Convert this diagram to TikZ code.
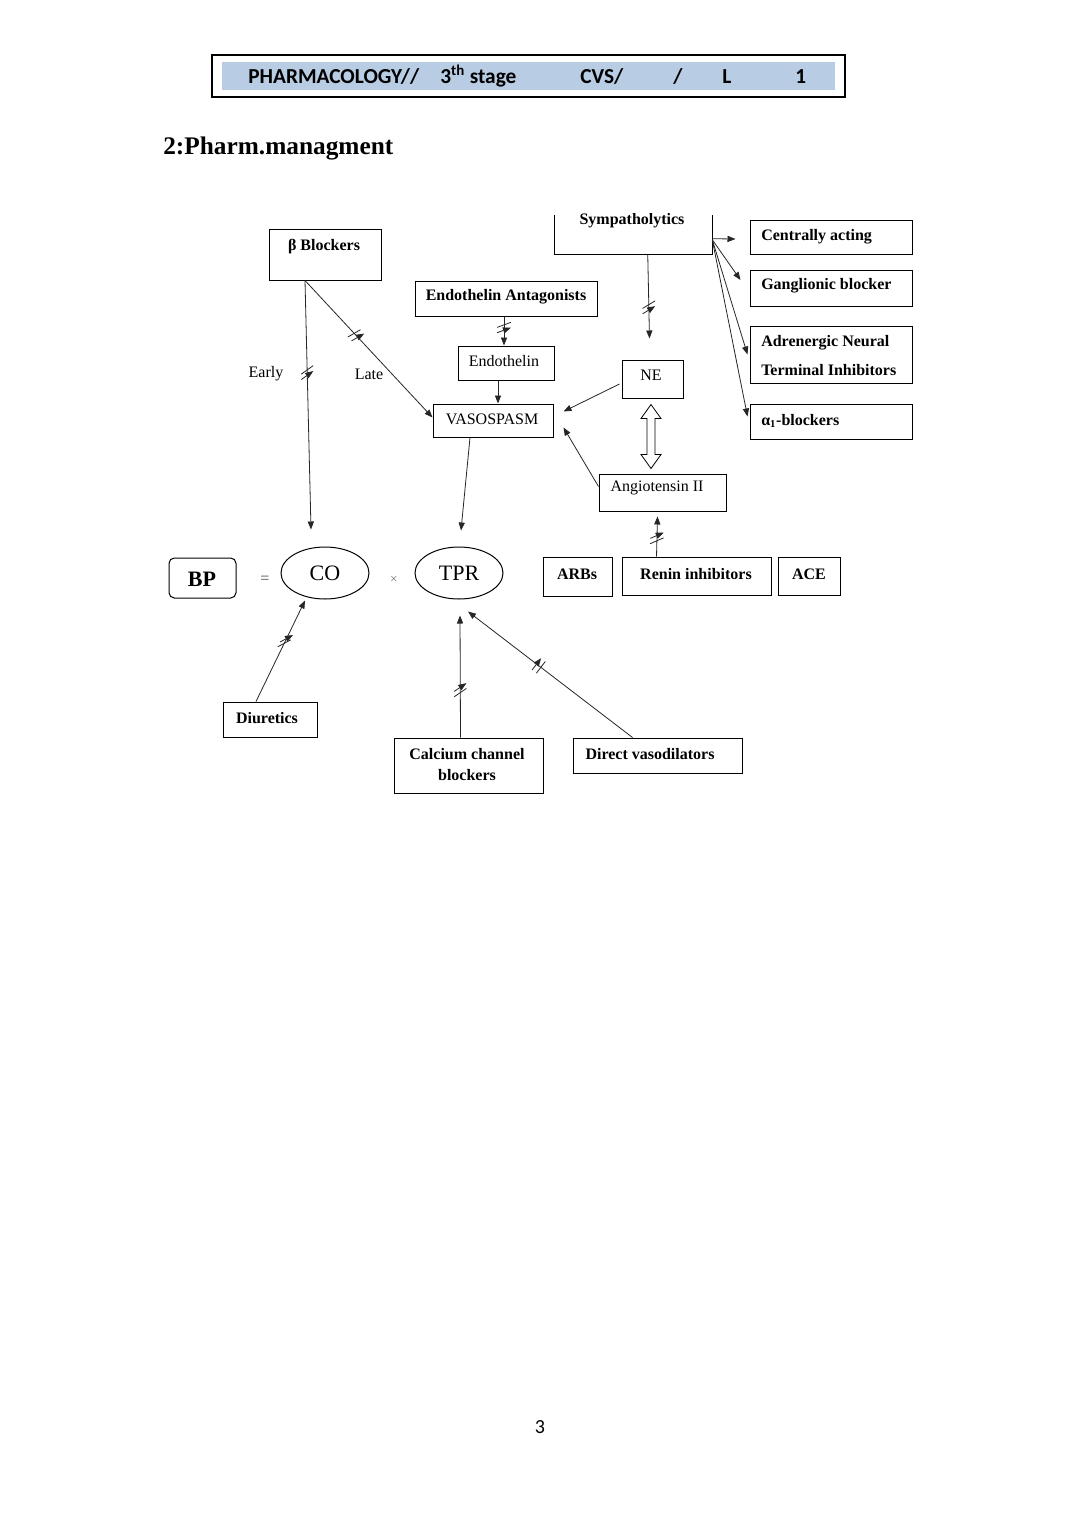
\documentclass[tikz,border=0pt]{standalone}
\usepackage{fontspec}
\setmainfont{Liberation Serif}
\newfontfamily\hdr{Carlito}
\usetikzlibrary{arrows.meta,calc,fit,shapes.geometric,decorations.markings}
\definecolor{headblue}{RGB}{184,204,228}
\begin{document}
\begin{tikzpicture}[x=0.75pt,y=-0.75pt,
  box/.style={draw,line width=0.75pt,inner sep=0pt},
  txt/.style={inner sep=0pt,font=\fontsize{12}{14}\selectfont},
  btxt/.style={inner sep=0pt,font=\fontsize{12}{14}\selectfont\bfseries},
  big/.style={inner sep=0pt,font=\fontsize{16.5}{18}\selectfont},
  conn/.style={line width=0.6pt,draw=black!85,-{Triangle[length=6pt,width=4.6pt]}},
  hatch/.style 2 args={postaction={decorate},decoration={markings,
     mark=at position #1 with {\draw[line width=0.6pt,black!85]
       (-2pt,0pt) ++(#2:-5.5pt) -- ++(#2:11pt)
       (2pt,0pt) ++(#2:-5.5pt) -- ++(#2:11pt);}}}
]
\useasboundingbox[fill=white] (0,0) rectangle (1080,1527);

% header
\node[draw,line width=1.1pt,inner sep=0pt,fit={(212,55) (845,97)}] (hb) {};
\node[fill=headblue,inner sep=0pt,fit={(222,62) (835,90)}] (hf) {};
\begin{scope}[every node/.style={inner sep=0pt,anchor=base west,font=\hdr\fontsize{16}{18}\selectfont\bfseries}]
\node (h1) at (248,84) {PHARMACOLOGY//};
\node (h2) at (440,84) {3\textsuperscript{th} stage};
\node (h3) at (580,84) {CVS/};
\node (h4) at (673,84) {/};
\node (h5) at (722,84) {L};
\node (h6) at (795,84) {1};
\end{scope}

\node[inner sep=0pt,anchor=base west,font=\fontsize{19}{22}\selectfont\bfseries] (title) at (163,154) {2:Pharm.managment};

% boxes
\node[box,fit={(269,229) (381,280)}] (bb) {};
\node[box,fit={(415,281) (597,316)}] (ea) {};
\node[box,fit={(458,346) (554,380)}] (en) {};
\node[box,fit={(433,404) (553,437)}] (vaso) {};
\node[inner sep=0pt,fit={(555,215) (712,254)}] (sym) {};
\draw[line width=0.75pt] (sym.north west) |- (sym.south east) -- (sym.north east);
\node[box,fit={(622,360) (683,398)}] (ne) {};
\node[box,fit={(599,474) (726,511)}] (ang) {};
\node[box,fit={(750,220) (912,254)}] (ca) {};
\node[box,fit={(750,270) (912,306)}] (gb) {};
\node[box,fit={(750,326) (912,383)}] (an) {};
\node[box,fit={(750,404) (912,439)}] (a1) {};
\node[box,rounded corners=4pt,fit={(169,558) (236,598)}] (bp) {};
\node[draw,line width=0.75pt,ellipse,minimum width=66pt,minimum height=39pt,inner sep=0pt] (co) at (325,573) {};
\node[draw,line width=0.75pt,ellipse,minimum width=66pt,minimum height=39pt,inner sep=0pt] (tpr) at (459,573) {};
\node[box,fit={(543,557) (612,596)}] (arb) {};
\node[box,fit={(622,557) (771,595)}] (ri) {};
\node[box,fit={(778,557) (840,595)}] (ace) {};
\node[box,fit={(223,702) (317,737)}] (di) {};
\node[box,fit={(394,738) (543,793)}] (ccb) {};
\node[box,fit={(573,738) (742,773)}] (dv) {};

% texts
\node[btxt] (tbb) at (324,247) {β Blockers};
\node[btxt] (tea) at (506,297) {Endothelin Antagonists};
\node[txt] (ten) at (504,361) {Endothelin};
\node[txt] (tva) at (492,419) {VASOSPASM};
\begin{scope}
\clip (540,213) rectangle (730,262);
\node[btxt] (tsy) at (632,221) {Sympatholytics};
\end{scope}
\node[txt] (tne) at (651,375) {NE};
\node[txt] (tan) at (657,488) {Angiotensin II};
\node[btxt,anchor=west] (tca) at (761,237) {Centrally acting};
\node[btxt,anchor=west] (tgb) at (761,286) {Ganglionic blocker};
\node[btxt,anchor=west] (tan1) at (761,343) {Adrenergic Neural};
\node[btxt,anchor=west] (tan2) at (761,370) {Terminal Inhibitors};
\node[btxt,anchor=west] (ta1) at (761,421) {α\textsubscript{1}-blockers};
\node[big,font=\fontsize{16.5}{18}\selectfont\bfseries] (tbp) at (202,579) {BP};
\node[txt,text=black!70] (teq) at (265,580) {=};
\node[big] (tco) at (325,573) {CO};
\node[txt,text=black!55,font=\fontsize{10}{12}\selectfont] (tx) at (394,580) {×};
\node[big] (ttp) at (459,573) {TPR};
\node[btxt] (tarb) at (577,574) {ARBs};
\node[btxt] (tri) at (696,574) {Renin inhibitors};
\node[btxt] (tace) at (809,574) {ACE};
\node[btxt] (tdi) at (267,718) {Diuretics};
\node[btxt] (tcc1) at (467,754) {Calcium channel};
\node[btxt] (tcc2) at (467,775) {blockers};
\node[btxt] (tdv) at (650,754) {Direct vasodilators};
\node[txt] (tearly) at (266,374) {Early};
\node[txt] (tlate) at (369,374) {Late};
\node[inner sep=0pt,font=\hdr\fontsize{15}{17}\selectfont] (pg) at (540,1427) {3};

% connectors
\draw[conn,hatch={0.37}{124}] ($(bb.south)+(-20,0)$) -- ($(co.north)+(-14,-17)$);
\draw[conn,hatch={0.4}{77}] ($(bb.south)+(-20,0)$) -- ($(vaso.west)+(0,-3)$);
\draw[conn,hatch={0.38}{110}] ($(ea.south)+(-2,0)$) -- ($(en.north)+(-2,0)$);
\draw[conn] ($(en.south)+(-8,0)$) -- ($(vaso.north)+(5,0)$);
\draw[conn] ($(vaso.south)+(-23,0)$) -- ($(tpr.north)+(2,-16)$);
\draw[conn,hatch={0.63}{120}] ($(sym.south west)+(93,0)$) -- ($(ne.north)+(-3,-21)$);
\draw[conn] ($(sym.north east)+(0,24)$) -- ($(ca.west)+(-14,2)$);
\draw[conn] ($(sym.north east)+(0,25)$) -- ($(gb.west)+(-9,-8)$);
\draw[conn] ($(sym.north east)+(0,25)$) -- ($(an.west)+(-2,0)$);
\draw[conn] ($(sym.north east)+(0,25)$) -- ($(a1.west)+(-2,-5)$);
\draw[conn] ($(ne.west)+(-2,5)$) -- ($(vaso.east)+(10,-9)$);
\draw[conn] ($(ang.west)+(0,-6)$) -- ($(vaso.east)+(10,7)$);
\draw[conn,hatch={0.46}{-65}] ($(ri.north)+(-40,0)$) -- ($(ang.south)+(-5,5)$);
\draw[conn,hatch={0.6}{-36}] ($(di.north)+(-14,0)$) -- ($(co.south)+(-20,1)$);
\draw[conn,hatch={0.39}{-56}] ($(ccb.north)+(-8,0)$) -- ($(tpr.south)+(1,16)$);
\draw[conn,hatch={0.57}{-90}] ($(dv.north)+(-25,0)$) -- ($(tpr.south)+(9,12)$);

% double open arrow NE <-> Angiotensin II
\coordinate (dtop) at ($(ne.south)+(-1.5,6)$);
\draw[line width=0.6pt] (dtop) -- ++(10,14) -- ++(-6,0) -- ++(0,36) -- ++(6,0) -- ++(-10,14)
  -- ++(-10,-14) -- ++(6,0) -- ++(0,-36) -- ++(-6,0) -- cycle;
\end{tikzpicture}
\end{document}
